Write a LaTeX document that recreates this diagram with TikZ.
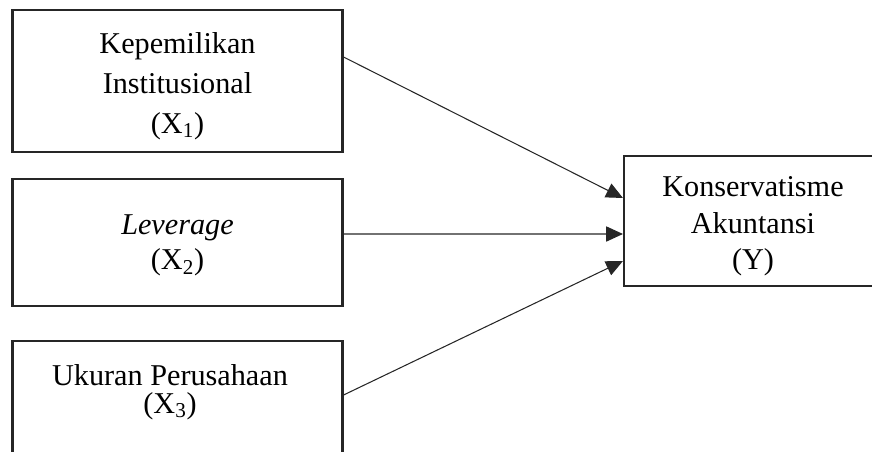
\documentclass[tikz,border=0pt]{standalone}
\usepackage{fontspec}
\setmainfont{Liberation Serif}
\usetikzlibrary{arrows.meta}

\begin{document}
\begin{tikzpicture}
        \tikzstyle{every node} = [rectangle]
        \tikzstyle{box} = [draw=black!85, line width=1.5pt, inner sep=0pt]
        \tikzstyle{txt} = [align=center, inner sep=0pt, font=\fontsize{21.5}{26}\selectfont]
        \useasboundingbox (0,0) rectangle (21.8,11.275);
        \clip (0,0) rectangle (21.8,11.275);

        \node[box, minimum width=8.25cm, minimum height=3.55cm] (x1) at (4.4375,9.25) {};
        \node[box, minimum width=8.25cm, minimum height=3.175cm] (x2) at (4.4375,5.2125) {};
        \node[box, minimum width=8.25cm, minimum height=3.225cm] (x3) at (4.4375,1.1375) {};
        \node[box, minimum width=6.45cm, minimum height=3.25cm] (y) at (18.825,5.75) {};

        \node[txt, font=\fontsize{21.5}{28.5}\selectfont] (t1) at (4.4375,9.125)
            {Kepemilikan\\Institusional\\(X\textsubscript{1})};
        \node[txt, font=\fontsize{21.5}{25}\selectfont] (t2) at (4.4375,5.1375)
            {\textit{Leverage}\\(X\textsubscript{2})};
        \node[txt, font=\fontsize{21.5}{20}\selectfont] (t3) at (4.25,1.475)
            {Ukuran Perusahaan\\(X\textsubscript{3})};
        \node[txt] (ty) at (18.825,5.6125)
            {Konservatisme\\Akuntansi\\(Y)};

        \foreach \from/\fs/\ts in {x1/0.6/0.575, x2/0.2125/-0.325, x3/0.2625/-1.0}
            \draw[-{Triangle[length=4.2mm,width=3.8mm]}, line width=0.75pt, black!85]
                ([yshift=\fs cm]\from.east) -- ([yshift=\ts cm]y.west);
      \end{tikzpicture}
\end{document}
